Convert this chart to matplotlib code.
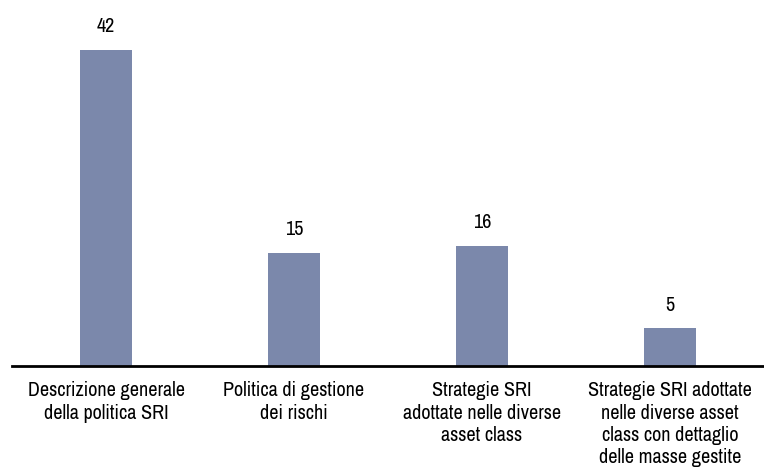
import matplotlib.pyplot as plt

categories = [
    "Descrizione generale\ndella politica SRI",
    "Politica di gestione\ndei rischi",
    "Strategie SRI\nadottate nelle diverse\nasset class",
    "Strategie SRI adottate\nnelle diverse asset\nclass con dettaglio\ndelle masse gestite",
]
values = [42, 15, 16, 5]

plt.rcParams["font.family"] = ["Archivo Narrow", "DejaVu Sans"]

fig = plt.figure(figsize=(7.64, 4.73), dpi=100)
ax = fig.add_axes([12 / 764, (473 - 366) / 473, 752 / 764, 366 / 473])

x = range(len(values))
bars = ax.bar(x, values, width=0.28, color="#7b88ab", zorder=2)

# value labels above each bar
for rect, v in zip(bars, values):
    ax.annotate(str(v), (rect.get_x() + rect.get_width() / 2, rect.get_height()),
                xytext=(0, 10), textcoords="offset points",
                ha="center", va="bottom", fontsize=14.5)

ax.set_xlim(-0.5, 3.5)
ax.set_ylim(0, 48.7)
ax.set_xticks(list(x))
ax.set_xticklabels(categories, fontsize=14.5, linespacing=1.22, va="top")
ax.tick_params(axis="x", length=0, pad=11)
ax.set_yticks([])

for side in ["top", "right", "left"]:
    ax.spines[side].set_visible(False)
ax.spines["bottom"].set_linewidth(2)
ax.spines["bottom"].set_color("black")

fig.savefig("out.png", dpi=100)
